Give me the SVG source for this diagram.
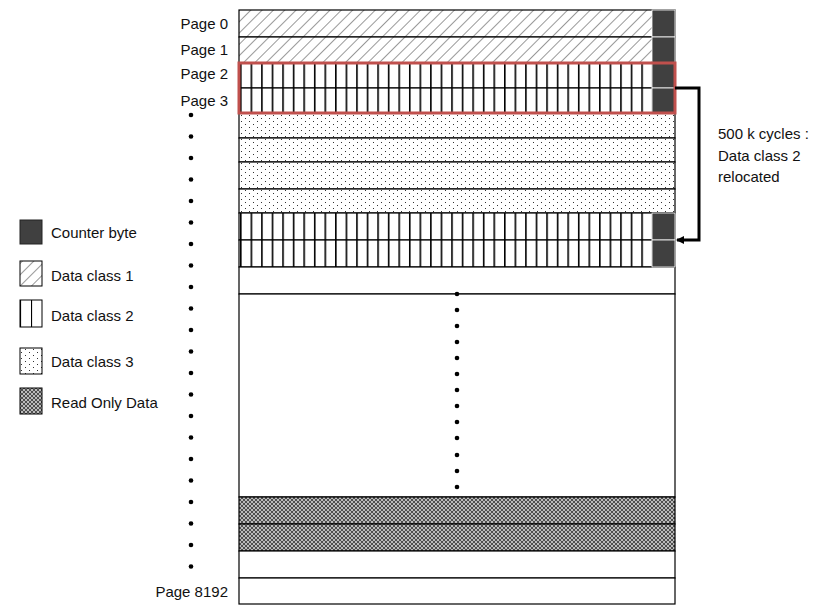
<svg xmlns="http://www.w3.org/2000/svg" width="835" height="610" viewBox="0 0 835 610">
<style>
text{font-family:"Liberation Sans",Arial,sans-serif;font-size:15px;fill:#111}
.row{stroke:#000;stroke-width:1.2}
.cb{fill:#404040;stroke:#fff;stroke-width:0.8}
.dot{fill:#000}
</style>
<defs>
<pattern id="hatch" width="8" height="8" patternUnits="userSpaceOnUse" patternTransform="rotate(45)"><rect width="8" height="8" fill="#fff"/><line x1="0" y1="0" x2="0" y2="8" stroke="#333" stroke-width="1"/></pattern>
<pattern id="vert" width="10.56" height="10" patternUnits="userSpaceOnUse" x="240"><rect width="10.56" height="10" fill="#fff"/><line x1="0.8" y1="0" x2="0.8" y2="10" stroke="#000" stroke-width="1.6"/></pattern>
<pattern id="vleg" width="11" height="10" patternUnits="userSpaceOnUse" x="20"><rect width="11" height="10" fill="#fff"/><line x1="0.5" y1="0" x2="0.5" y2="10" stroke="#000" stroke-width="1.2"/></pattern>
<pattern id="dots" width="8" height="6" patternUnits="userSpaceOnUse"><rect width="8" height="6" fill="#fff"/><rect x="1" y="1" width="1" height="1" fill="#333"/><rect x="5" y="4" width="1" height="1" fill="#333"/></pattern>
<pattern id="cross" width="4" height="4" patternUnits="userSpaceOnUse"><rect width="4" height="4" fill="#bbb"/><path d="M0 0L4 4M4 0L0 4" stroke="#333" stroke-width="0.8"/></pattern>
<marker id="ah" markerWidth="8" markerHeight="8" refX="7" refY="4" orient="auto" markerUnits="userSpaceOnUse"><path d="M0 0L8 4L0 8z" fill="#000"/></marker>
</defs>
<g id="pages">
<rect class="row" x="239" y="10" width="436" height="27" fill="url(#hatch)"/>
<rect class="row" x="239" y="37" width="436" height="26" fill="url(#hatch)"/>
<rect class="row" x="239" y="63" width="436" height="25" fill="url(#vert)"/>
<rect class="row" x="239" y="88" width="436" height="25" fill="url(#vert)"/>
<rect class="row" x="239" y="113" width="436" height="25" fill="url(#dots)"/>
<rect class="row" x="239" y="138" width="436" height="24" fill="url(#dots)"/>
<rect class="row" x="239" y="162" width="436" height="27" fill="url(#dots)"/>
<rect class="row" x="239" y="189" width="436" height="24" fill="url(#dots)"/>
<rect class="row" x="239" y="213" width="436" height="27" fill="url(#vert)"/>
<rect class="row" x="239" y="240" width="436" height="27" fill="url(#vert)"/>
<rect class="row" x="239" y="267" width="436" height="27" fill="#fff"/>
<rect class="row" x="239" y="294" width="436" height="203" fill="#fff"/>
<rect class="row" x="239" y="497" width="436" height="27" fill="url(#cross)"/>
<rect class="row" x="239" y="524" width="436" height="27" fill="url(#cross)"/>
<rect class="row" x="239" y="551" width="436" height="27" fill="#fff"/>
<rect class="row" x="239" y="578" width="436" height="26" fill="#fff"/>
<rect class="cb" x="652" y="10" width="23" height="27"/>
<rect class="cb" x="652" y="37" width="23" height="26"/>
<rect class="cb" x="652" y="63" width="23" height="25"/>
<rect class="cb" x="652" y="88" width="23" height="25"/>
<rect class="cb" x="652" y="213" width="23" height="27"/>
<rect class="cb" x="652" y="240" width="23" height="27"/>
<rect x="239" y="63" width="436" height="50" fill="none" stroke="#c0504d" stroke-width="3"/>
</g>
<g id="labels">
<text x="228" y="29" text-anchor="end">Page 0</text>
<text x="228" y="55" text-anchor="end">Page 1</text>
<text x="228" y="79" text-anchor="end">Page 2</text>
<text x="228" y="106" text-anchor="end">Page 3</text>
<text x="228" y="597" text-anchor="end">Page 8192</text>
<text x="718" y="139">500 k cycles :</text>
<text x="718" y="161">Data class 2</text>
<text x="718" y="182">relocated</text>
</g>
<g id="dots-left" class="dot">
<circle cx="191" cy="115" r="2.3"/><circle cx="191" cy="136.5" r="2.3"/><circle cx="191" cy="158" r="2.3"/><circle cx="191" cy="179.5" r="2.3"/><circle cx="191" cy="201" r="2.3"/><circle cx="191" cy="222.5" r="2.3"/><circle cx="191" cy="244" r="2.3"/><circle cx="191" cy="265.5" r="2.3"/><circle cx="191" cy="287" r="2.3"/><circle cx="191" cy="308.5" r="2.3"/><circle cx="191" cy="330" r="2.3"/><circle cx="191" cy="351.5" r="2.3"/><circle cx="191" cy="373" r="2.3"/><circle cx="191" cy="394.5" r="2.3"/><circle cx="191" cy="416" r="2.3"/><circle cx="191" cy="437.5" r="2.3"/><circle cx="191" cy="459" r="2.3"/><circle cx="191" cy="480.5" r="2.3"/><circle cx="191" cy="502" r="2.3"/><circle cx="191" cy="523.5" r="2.3"/><circle cx="191" cy="545" r="2.3"/><circle cx="191" cy="566.5" r="2.3"/>
</g>
<g id="dots-mid" class="dot">
<circle cx="457" cy="294" r="2.3"/><circle cx="457" cy="310" r="2.3"/><circle cx="457" cy="326" r="2.3"/><circle cx="457" cy="342" r="2.3"/><circle cx="457" cy="358" r="2.3"/><circle cx="457" cy="374" r="2.3"/><circle cx="457" cy="390" r="2.3"/><circle cx="457" cy="406" r="2.3"/><circle cx="457" cy="422" r="2.3"/><circle cx="457" cy="438" r="2.3"/><circle cx="457" cy="455" r="2.3"/><circle cx="457" cy="471" r="2.3"/><circle cx="457" cy="487" r="2.3"/>
</g>
<g id="connectors">
<path d="M675 88H699V240H677" fill="none" stroke="#000" stroke-width="3" marker-end="url(#ah)"/>
</g>
<g id="legend">
<rect x="20" y="220" width="22" height="24" fill="#404040" stroke="#222"/>
<text x="51" y="238">Counter byte</text>
<rect x="20" y="261" width="22" height="25" fill="url(#hatch)" stroke="#000"/>
<text x="51" y="281">Data class 1</text>
<rect x="20" y="300" width="22" height="27" fill="url(#vleg)" stroke="#000"/>
<text x="51" y="321">Data class 2</text>
<rect x="20" y="348" width="22" height="26" fill="url(#dots)" stroke="#000"/>
<text x="51" y="367">Data class 3</text>
<rect x="20" y="388" width="22" height="26" fill="url(#cross)" stroke="#000"/>
<text x="51" y="408">Read Only Data</text>
</g>
</svg>
